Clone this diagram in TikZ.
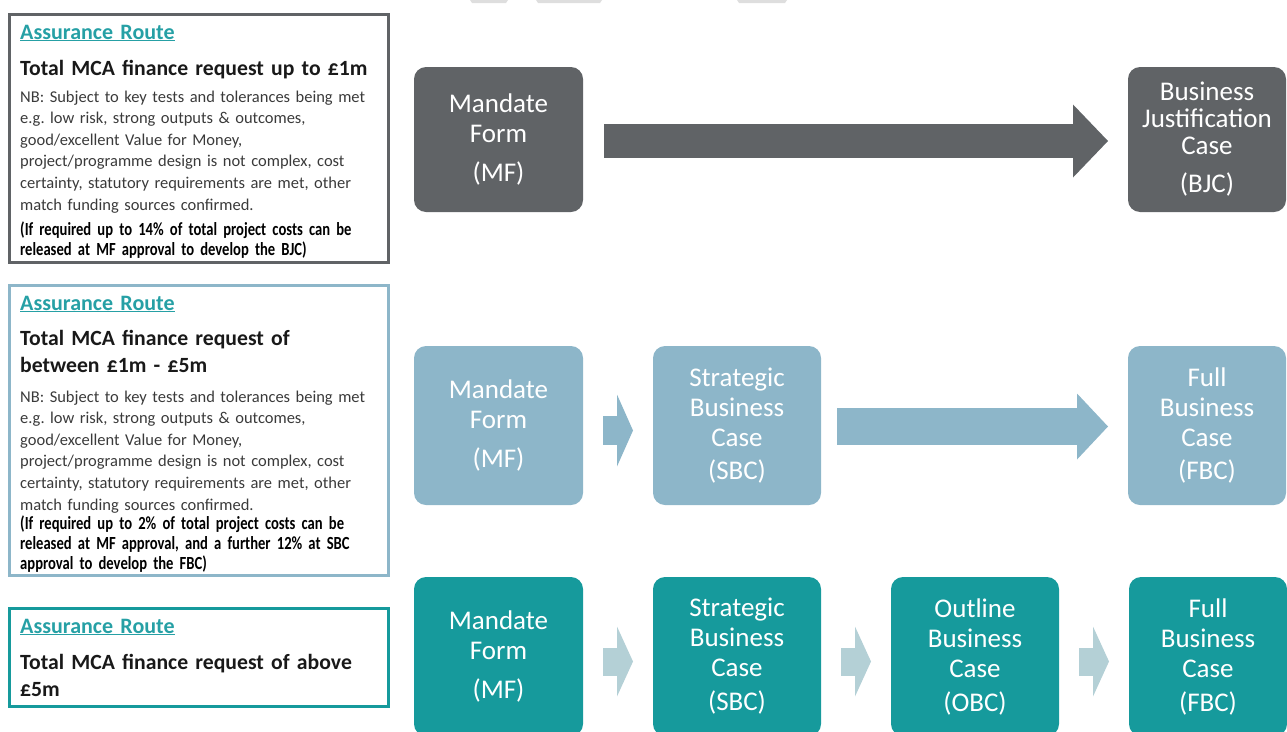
\documentclass[tikz,border=0pt]{standalone}
\usepackage{fontspec}
\setmainfont{Carlito}
\newfontfamily\condbold{Carlito}[FakeStretch=0.79]
\usetikzlibrary{positioning}
\usetikzlibrary{arrows.meta}

\definecolor{routegrey}{RGB}{96,99,102}
\definecolor{routeblue}{RGB}{141,182,201}
\definecolor{routeteal}{RGB}{22,154,156}
\definecolor{stepfaint}{RGB}{180,208,214}
\definecolor{linkteal}{RGB}{38,160,165}
\definecolor{notegrey}{RGB}{58,58,58}
\definecolor{sliver}{RGB}{222,222,222}

\begin{document}
\begin{tikzpicture}[x=1pt,y=-1pt,
    stage/.style={
      % The shape:
      rectangle,rounded corners=12pt,minimum width=169pt,minimum height=159pt,
      inner sep=0pt,outer sep=0pt,
      % Text
      text=white,align=center,font={\fontsize{27}{30}\selectfont}
      },
    panel/.style={rectangle,line width=3pt,minimum width=379pt,inner sep=0pt,outer sep=0pt},
    routehead/.style={anchor=base west,inner sep=0pt,text width=370pt,text=linkteal,
      font={\fontsize{22}{25}\selectfont\bfseries}},
    routetitle/.style={anchor=base west,inner sep=0pt,text width=370pt,text=black!90,
      font={\fontsize{21.7}{27.5}\selectfont\bfseries}},
    routenote/.style={anchor=base west,inner sep=0pt,text width=375pt,text=notegrey,
      font={\fontsize{16.5}{21.6}\selectfont}},
    routefund/.style={anchor=base west,inner sep=0pt,text width=375pt,text=black,
      font={\condbold\bfseries\fontsize{18.5}{20}\selectfont}},
    blockarrow/.style n args={3}{line width=#1,-{Triangle[width=#2,length=#3,line width=0pt]}}]
  \useasboundingbox (0,0) rectangle (1287,731);
  \clip (0,0) rectangle (1287,731);

  % cut-off shapes along the top edge
  \fill [sliver] (470,0) -- (508,0) -- (506,3) -- (472,3) -- cycle;
  \fill [sliver] (536,0) -- (602,0) -- (600,3) -- (538,3) -- cycle;
  \fill [sliver] (737,0) -- (787,0) -- (785,3) -- (739,3) -- cycle;

  % assurance routes
  \node (routeA) [panel,draw=routegrey,minimum height=248pt] at (199,138.5) {};
  \node (routeB) [panel,draw=routeblue,minimum height=290pt,below=23pt of routeA] {};
  \node (routeC) [panel,draw=routeteal,minimum height=98pt,below=33pt of routeB] {};

  \node (headA) [routehead] at (20,39) {\underline{Assurance Route}};
  \node (askA) [routetitle] at (20,75) {Total MCA finance request up to £1m};
  \node (testsA) [routenote] at (20,102) {NB: Subject to key tests and tolerances being met\\
    e.g.\ low risk, strong outputs \& outcomes,\\ good/excellent Value for Money,\\
    project/programme design is not complex, cost\\
    certainty, statutory requirements are met, other\\ match funding sources confirmed.};
  \node (fundA) [routefund] at (20,235) {(If required up to 14\% of total project costs can be\\
    released at MF approval to develop the BJC)};

  \node (headB) [routehead] at (20,310) {\underline{Assurance Route}};
  \node (askB) [routetitle] at (20,345) {Total MCA finance request of\\ between £1m - £5m};
  \node (testsB) [routenote] at (20,402) {NB: Subject to key tests and tolerances being met\\
    e.g.\ low risk, strong outputs \& outcomes,\\ good/excellent Value for Money,\\
    project/programme design is not complex, cost\\
    certainty, statutory requirements are met, other\\ match funding sources confirmed.};
  \node (fundB) [routefund] at (20,529) {(If required up to 2\% of total project costs can be\\
    released at MF approval, and a further 12\% at SBC\\ approval to develop the FBC)};

  \node (headC) [routehead] at (20,633) {\underline{Assurance Route}};
  \node (askC) [routetitle] at (20,669) {Total MCA finance request of above\\ £5m};

  % business case stages
  \node (mfA) [stage,fill=routegrey,minimum height=145pt] at (498.5,139.5) {Mandate\\ Form\\[9pt] (MF)};
  \node (bjcA) [stage,fill=routegrey,minimum height=145pt,minimum width=158pt,right=545pt of mfA,
    font={\fontsize{27}{27}\selectfont}] {Business\\ Justification\\ Case\\[11pt] (BJC)};

  \node (mfB) [stage,fill=routeblue,below=134pt of mfA] {Mandate\\ Form\\[9pt] (MF)};
  \node (sbcB) [stage,fill=routeblue,minimum width=168pt,right=70pt of mfB] {Strategic\\ Business\\ Case\\[3pt] (SBC)};
  \node (fbcB) [stage,fill=routeblue,minimum width=158pt,right=545pt of mfB] {Full\\ Business\\ Case\\[3pt] (FBC)};

  \node (mfC) [stage,fill=routeteal,below=72pt of mfB] {Mandate\\ Form\\[9pt] (MF)};
  \node (sbcC) [stage,fill=routeteal,minimum width=168pt,right=70pt of mfC] {Strategic\\ Business\\ Case\\[4pt] (SBC)};
  \node (obcC) [stage,fill=routeteal,minimum width=168pt,right=70pt of sbcC] {Outline\\ Business\\ Case\\[4pt] (OBC)};
  \node (fbcC) [stage,fill=routeteal,minimum width=158pt,right=70pt of obcC] {Full\\ Business\\ Case\\[4pt] (FBC)};

  \draw [blockarrow={34pt}{73pt}{35pt},routegrey] ([xshift=21pt,yshift=-1.5pt]mfA.east) -- ([xshift=-20pt,yshift=-1.5pt]bjcA.west);
  \draw [blockarrow={29pt}{72pt}{16pt},routeblue] ([xshift=20pt,yshift=-5pt]mfB.east) -- ([xshift=-20pt,yshift=-5pt]sbcB.west);
  \draw [blockarrow={37pt}{66pt}{31pt},routeblue] ([xshift=16pt,yshift=-1pt]sbcB.east) -- ([xshift=-20pt,yshift=-1pt]fbcB.west);
  \draw [blockarrow={28pt}{70pt}{16pt},stepfaint] ([xshift=20pt,yshift=-5pt]mfC.east) -- ([xshift=-20pt,yshift=-5pt]sbcC.west);
  \draw [blockarrow={28pt}{70pt}{16pt},stepfaint] ([xshift=20pt,yshift=-5pt]sbcC.east) -- ([xshift=-20pt,yshift=-5pt]obcC.west);
  \draw [blockarrow={28pt}{70pt}{16pt},stepfaint] ([xshift=20pt,yshift=-5pt]obcC.east) -- ([xshift=-20pt,yshift=-5pt]fbcC.west);
\end{tikzpicture}
\end{document}
